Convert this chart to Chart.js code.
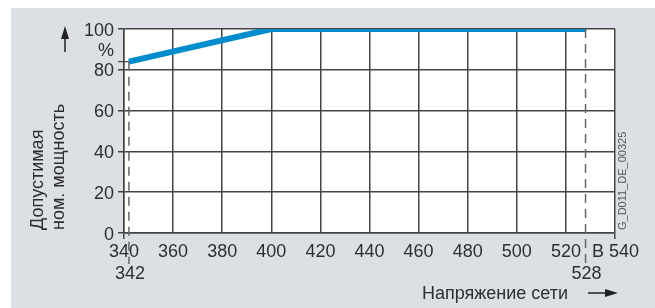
<!DOCTYPE html>
<html>
<head>
<meta charset="utf-8">
<script src="https://cdn.jsdelivr.net/npm/chart.js@4.4.1/dist/chart.umd.min.js"></script>
<style>
  html, body { margin: 0; padding: 0; background: #fff; }
  canvas { display: block; }
</style>
</head>
<body>
<canvas id="chart" width="655" height="308"></canvas>
<script>
// Permissible rated power vs. line voltage
const voltage = [342, 400, 528];
const powerPct = [84, 100, 100];
const xTicks = [340, 360, 380, 400, 420, 440, 460, 480, 500, 520, 540];
const yTicks = [0, 20, 40, 60, 80, 100];
const markVoltages = [342, 528];
const markPower = 84;

const FONT = '"Liberation Sans", Arial, sans-serif';
const TEXT = '#2e2e2e';
const GRID = '#444';

const decorPlugin = {
    id: 'decor',
    beforeDraw(chart) {
        const ctx = chart.ctx;
        const a = chart.chartArea;
        ctx.save();
        ctx.fillStyle = '#dce0e4';
        ctx.fillRect(11, 8, chart.width - 11, chart.height - 8);
        ctx.fillStyle = '#fff';
        ctx.fillRect(a.left, a.top, a.right - a.left, a.bottom - a.top);
        ctx.restore();
    },
    afterDraw(chart) {
        const ctx = chart.ctx;
        const x = chart.scales.x;
        const y = chart.scales.y;
        const a = chart.chartArea;
        ctx.save();

        // dashed marker lines
        ctx.strokeStyle = '#666';
        ctx.lineWidth = 1.5;
        ctx.setLineDash([9, 6]);
        ctx.beginPath();
        ctx.moveTo(x.getPixelForValue(markVoltages[0]), y.getPixelForValue(markPower));
        ctx.lineTo(x.getPixelForValue(markVoltages[0]), 264);
        ctx.moveTo(x.getPixelForValue(markVoltages[1]), a.top);
        ctx.lineTo(x.getPixelForValue(markVoltages[1]), 264);
        ctx.stroke();
        ctx.setLineDash([]);

        // short mark at 84 %
        ctx.strokeStyle = GRID;
        ctx.lineWidth = 1.2;
        ctx.beginPath();
        ctx.moveTo(a.left - 6, y.getPixelForValue(markPower));
        ctx.lineTo(x.getPixelForValue(markVoltages[0]), y.getPixelForValue(markPower));
        ctx.stroke();

        // tick labels
        ctx.fillStyle = TEXT;
        ctx.font = '18px ' + FONT;
        ctx.textBaseline = 'alphabetic';
        ctx.textAlign = 'right';
        yTicks.forEach(v => ctx.fillText(String(v), 114, y.getPixelForValue(v) + 6.5));
        ctx.fillText('%', 114, 55.5);

        ctx.textAlign = 'center';
        xTicks.forEach(v => {
            if (v === 540) return;
            ctx.fillText(String(v), x.getPixelForValue(v), 257);
        });
        ctx.textAlign = 'left';
        ctx.fillText('540', x.getPixelForValue(540) - 6, 257);
        ctx.textAlign = 'right';
        ctx.fillText('В', x.getPixelForValue(540) - 11, 257);
        ctx.textAlign = 'center';
        markVoltages.forEach(v => ctx.fillText(String(v), x.getPixelForValue(v) + 1, 279));

        // axis titles
        ctx.textAlign = 'left';
        ctx.fillText('Напряжение сети', 422, 299);
        ctx.save();
        ctx.translate(0, 0);
        ctx.rotate(-Math.PI / 2);
        ctx.fillText('Допустимая', -230, 43);
        ctx.fillText('ном. мощность', -230, 64);
        ctx.font = '11px ' + FONT;
        ctx.fillStyle = '#555';
        ctx.fillText('G_D011_DE_00325', -230, 626);
        ctx.restore();

        // arrows
        ctx.strokeStyle = '#222';
        ctx.fillStyle = '#222';
        ctx.lineWidth = 1.5;
        ctx.beginPath();
        ctx.moveTo(65, 52);
        ctx.lineTo(65, 37);
        ctx.moveTo(588, 293);
        ctx.lineTo(606, 293);
        ctx.stroke();
        ctx.beginPath();
        ctx.moveTo(65, 26);
        ctx.lineTo(61, 39);
        ctx.lineTo(69, 39);
        ctx.closePath();
        ctx.moveTo(618, 293);
        ctx.lineTo(605, 289);
        ctx.lineTo(605, 297);
        ctx.closePath();
        ctx.fill();

        ctx.restore();
    }
};

new Chart(document.getElementById('chart'), {
    type: 'line',
    data: {
        datasets: [{
            data: voltage.map((v, i) => ({ x: v, y: powerPct[i] })),
            borderColor: '#008ccd',
            borderWidth: 6,
            borderCapStyle: 'butt',
            pointRadius: 0,
            tension: 0,
            fill: false
        }]
    },
    options: {
        responsive: false,
        devicePixelRatio: 1,
        animation: false,
        layout: { padding: { left: 118, right: 40, top: 29, bottom: 69 } },
        plugins: { legend: { display: false }, tooltip: { enabled: false } },
        scales: {
            x: {
                type: 'linear',
                min: 340,
                max: 540,
                afterFit: s => { s.height = 6; },
                afterBuildTicks: s => { s.ticks = xTicks.map(v => ({ value: v })); },
                ticks: { display: false },
                grid: {
                    color: GRID,
                    lineWidth: 1.5,
                    drawTicks: true,
                    tickLength: 6,
                    tickColor: c => (c.tick && (c.tick.value === 340 || c.tick.value === 540)) ? GRID : 'rgba(0,0,0,0)'
                },
                border: { color: GRID, width: 1.5 }
            },
            y: {
                min: 0,
                max: 100,
                afterFit: s => { s.width = 6; },
                afterBuildTicks: s => { s.ticks = yTicks.map(v => ({ value: v })); },
                ticks: { display: false },
                grid: { color: GRID, lineWidth: 1.5, drawTicks: true, tickLength: 6, tickColor: GRID },
                border: { color: GRID, width: 1.5 }
            }
        }
    },
    plugins: [decorPlugin]
});
</script>
</body>
</html>
